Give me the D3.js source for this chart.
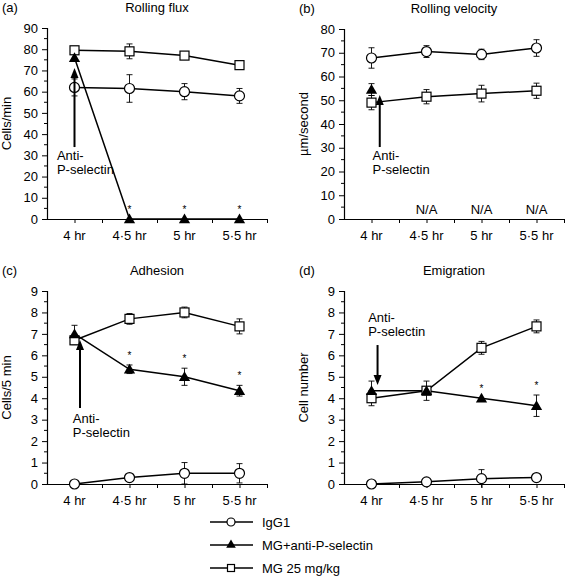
<!DOCTYPE html>
<html><head><meta charset="utf-8">
<script src="https://cdn.jsdelivr.net/npm/d3@7"></script>
<style>
body{margin:0;background:#fff;}
svg{font-family:"Liberation Sans",Arial,Helvetica,sans-serif;}
</style></head>
<body><svg id="c" width="570" height="576"></svg>
<script>
const times = ["4 hr","4·5 hr","5 hr","5·5 hr"];
const hours = [4, 4.5, 5, 5.5];

const fluxIgG = [62, 61.5, 60, 58],      fluxIgGErr = [4, 6.5, 3.8, 3.5];
const fluxAnti = [76, 0, 0, 0],          fluxAntiErr = [0, 0, 0, 0];
const fluxMG = [79.5, 79, 77, 72.5],     fluxMGErr = [0, 3.5, 1.5, 1];
const fluxStars = [1, 2, 3];

const velIgG = [67.8, 70.5, 69.3, 72],   velIgGErr = [4.3, 2.5, 2.2, 3.5];
const velAnti = [54.5, null, null, null], velAntiErr = [2.5, 0, 0, 0];
const velMG = [49, 51.5, 52.8, 54],      velMGErr = [3, 3, 3.5, 3.2];
const velNA = [1, 2, 3];

const adhIgG = [0, 0.3, 0.5, 0.5],       adhIgGErr = [0, 0, 0.5, 0.45];
const adhAnti = [7.0, 5.35, 5.0, 4.35],  adhAntiErr = [0.4, 0.2, 0.4, 0.25];
const adhMG = [6.7, 7.7, 8.0, 7.35],     adhMGErr = [0.2, 0.25, 0.25, 0.35];
const adhStars = [1, 2, 3];

const emIgG = [0, 0.1, 0.25, 0.3],       emIgGErr = [0, 0, 0.42, 0];
const emAnti = [4.35, 4.35, 4.0, 3.65],  emAntiErr = [0.45, 0, 0, 0.5];
const emMG = [4.0, 4.35, 6.35, 7.35],    emMGErr = [0.35, 0.45, 0.3, 0.3];
const emStars = [2, 3];

const seriesNames = ["IgG1", "MG+anti-P-selectin", "MG 25 mg/kg"];
const seriesShapes = ["circle", "triangle", "square"];

const panels = [
  {tag:"(a)", title:"Rolling flux", ylab:"Cells/min", yMax:90, yStep:10,
   data:[fluxIgG, fluxAnti, fluxMG], err:[fluxIgGErr, fluxAntiErr, fluxMGErr], stars:fluxStars, starSeries:1,
   arrow:{x:4.0, from:33.9, to:71.2}, label:{x:3.84, y1:160, y2:174}, na:null,
   left:47, top:28, bottom:219},
  {tag:"(b)", title:"Rolling velocity", ylab:"µm/second", yMax:80, yStep:10,
   data:[velIgG, velAnti, velMG], err:[velIgGErr, velAntiErr, velMGErr], stars:[], starSeries:1,
   arrow:{x:4.075, from:30.3, to:52.2}, label:{x:4.01, y1:160, y2:174}, na:velNA,
   left:344, top:29, bottom:219},
  {tag:"(c)", title:"Adhesion", ylab:"Cells/5 min", yMax:9, yStep:1,
   data:[adhIgG, adhAnti, adhMG], err:[adhIgGErr, adhAntiErr, adhMGErr], stars:adhStars, starSeries:1,
   arrow:{x:4.05, from:3.54, to:6.72}, label:{x:3.985, y1:423, y2:437}, na:null,
   left:47, top:291, bottom:484},
  {tag:"(d)", title:"Emigration", ylab:"Cell number", yMax:9, yStep:1,
   data:[emIgG, emAnti, emMG], err:[emIgGErr, emAntiErr, emMGErr], stars:emStars, starSeries:1,
   arrow:{x:4.055, from:6.48, to:4.62}, label:{x:3.97, y1:322, y2:336}, na:null,
   left:344, top:291, bottom:484}
];

const svg = d3.select("#c");
const FS = 13;

function drawMarker(g, shape, x, y) {
  if (shape === "circle") {
    g.append("circle").attr("cx", x).attr("cy", y).attr("r", 5)
      .attr("fill", "#fff").attr("stroke", "#000").attr("stroke-width", 1.2);
  } else if (shape === "square") {
    g.append("rect").attr("x", x - 4.5).attr("y", y - 4.5).attr("width", 9).attr("height", 9)
      .attr("fill", "#fff").attr("stroke", "#000").attr("stroke-width", 1.2);
  } else {
    g.append("path").attr("d", d3.symbol(d3.symbolTriangle, 55)())
      .attr("transform", `translate(${x},${y + 1})`).attr("fill", "#000");
  }
}

function arrowHead(g, x, yTip, dir) {
  const h = 10, w = 4;
  g.append("path")
    .attr("d", `M${x},${yTip} L${x - w},${yTip - dir * h} L${x + w},${yTip - dir * h} Z`)
    .attr("fill", "#000");
}

panels.forEach((p) => {
  const x = d3.scaleLinear().domain([3.75, 5.75]).range([p.left, p.left + 220]);
  const y = d3.scaleLinear().domain([0, p.yMax]).range([p.bottom, p.top]);
  const g = svg.append("g");

  const titleY = p.top - 16;
  g.append("text").attr("x", p.left - 45).attr("y", titleY).attr("font-size", FS).text(p.tag);
  g.append("text").attr("x", x(4.75)).attr("y", titleY).attr("text-anchor", "middle").attr("font-size", FS).text(p.title);

  // y axis
  const yMajor = d3.range(0, p.yMax + p.yStep / 2, p.yStep);
  const yMinor = d3.range(p.yStep / 2, p.yMax, p.yStep);
  const ya = g.append("g").attr("transform", `translate(${p.left},0)`);
  ya.call(d3.axisLeft(y).tickValues(yMajor).tickSize(5).tickPadding(4).tickFormat(d3.format("d")));
  ya.attr("font-family", null).attr("font-size", FS);
  ya.selectAll("text").attr("fill", "#000");
  ya.select(".domain").attr("stroke", "#000").attr("stroke-width", 1.2);
  ya.selectAll(".tick line").attr("stroke", "#000");
  ya.append("g").selectAll("line").data(yMinor).join("line")
    .attr("x1", -3).attr("x2", 0).attr("y1", d => y(d)).attr("y2", d => y(d)).attr("stroke", "#000");

  // x axis
  const xTicks = d3.range(4, 5.76, 0.25);
  const xa = g.append("g").attr("transform", `translate(0,${p.bottom})`);
  xa.call(d3.axisBottom(x).tickValues(xTicks).tickSize(4).tickSizeOuter(0).tickFormat(() => ""));
  xa.select(".domain").attr("stroke", "#000").attr("stroke-width", 1.2);
  xa.selectAll(".tick line").attr("stroke", "#000");
  g.append("g").selectAll("text").data(hours).join("text")
    .attr("x", d => x(d)).attr("y", p.bottom + 21).attr("text-anchor", "middle").attr("font-size", FS)
    .attr("fill", "#000").text((d, i) => times[i]);

  // y label
  g.append("text")
    .attr("transform", `translate(${p.left - 36},${(p.top + p.bottom) / 2}) rotate(-90)`)
    .attr("text-anchor", "middle").attr("font-size", FS).text(p.ylab);

  // series lines
  const line = d3.line().defined(d => d[1] != null).x(d => x(d[0])).y(d => y(d[1]));
  [0, 2, 1].forEach(si => {
    const pts = hours.map((h, i) => [h, p.data[si][i]]);
    g.append("path").attr("d", line(pts)).attr("fill", "none").attr("stroke", "#000").attr("stroke-width", 1.5);
  });

  // error bars
  [0, 1, 2].forEach(si => {
    hours.forEach((h, i) => {
      const v = p.data[si][i], e = p.err[si][i];
      if (v == null || !e) return;
      const cx = x(h);
      g.append("line").attr("x1", cx).attr("x2", cx).attr("y1", y(v - e)).attr("y2", y(v + e)).attr("stroke", "#000").attr("stroke-width", 0.9);
      [v - e, v + e].forEach(b => {
        if (b < 0) return;
        g.append("line").attr("x1", cx - 3).attr("x2", cx + 3).attr("y1", y(b)).attr("y2", y(b)).attr("stroke", "#000").attr("stroke-width", 0.9);
      });
    });
  });

  // markers
  [0, 2, 1].forEach(si => {
    hours.forEach((h, i) => {
      const v = p.data[si][i];
      if (v == null) return;
      drawMarker(g, seriesShapes[si], x(h), y(v));
    });
  });

  // stars
  p.stars.forEach(i => {
    const v = p.data[p.starSeries][i] + p.err[p.starSeries][i];
    g.append("text").attr("x", x(hours[i])).attr("y", y(v) - 6).attr("text-anchor", "middle")
      .attr("font-size", 10).text("*");
  });

  // N/A labels
  if (p.na) p.na.forEach(i => {
    g.append("text").attr("x", x(hours[i])).attr("y", p.bottom - 5).attr("text-anchor", "middle")
      .attr("font-size", FS).text("N/A");
  });

  // arrow annotation
  const a = p.arrow;
  const dir = a.to > a.from ? -1 : 1;
  g.append("line").attr("x1", x(a.x)).attr("x2", x(a.x)).attr("y1", y(a.from)).attr("y2", y(a.to) - dir * 9)
    .attr("stroke", "#000").attr("stroke-width", 2);
  arrowHead(g, x(a.x), y(a.to), dir);
  g.append("text").attr("x", x(p.label.x)).attr("y", p.label.y1).attr("font-size", FS).text("Anti-");
  g.append("text").attr("x", x(p.label.x)).attr("y", p.label.y2).attr("font-size", FS).text("P-selectin");
});

// legend
const legY = [522, 545, 568];
const lg = svg.append("g");
seriesNames.forEach((n, i) => {
  lg.append("line").attr("x1", 210).attr("x2", 253).attr("y1", legY[i]).attr("y2", legY[i]).attr("stroke", "#000").attr("stroke-width", 1.5);
  const gg = lg.append("g");
  if (seriesShapes[i] === "circle") {
    gg.append("circle").attr("cx", 231).attr("cy", legY[i]).attr("r", 4).attr("fill", "#fff").attr("stroke", "#000").attr("stroke-width", 1.2);
  } else if (seriesShapes[i] === "square") {
    gg.append("rect").attr("x", 227.5).attr("y", legY[i] - 3.5).attr("width", 7).attr("height", 7).attr("fill", "#fff").attr("stroke", "#000").attr("stroke-width", 1.2);
  } else {
    gg.append("path").attr("d", d3.symbol(d3.symbolTriangle, 40)()).attr("transform", `translate(231,${legY[i]})`).attr("fill", "#000");
  }
  lg.append("text").attr("x", 262).attr("y", legY[i] + 4.5).attr("font-size", FS).text(n);
});
</script></body></html>
